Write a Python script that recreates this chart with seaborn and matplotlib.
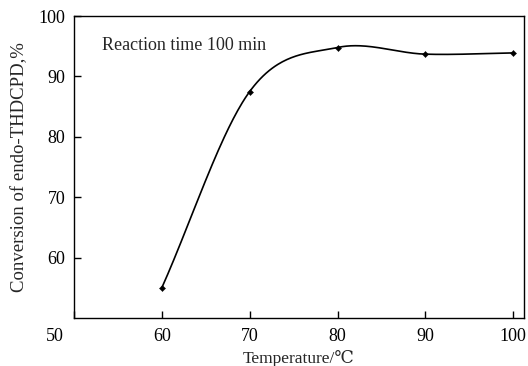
import numpy as np
import pandas as pd
import matplotlib
matplotlib.use("Agg")
import matplotlib.pyplot as plt
import matplotlib.transforms as mtransforms
import seaborn as sns

temperature = [60, 70, 80, 90, 100]
conversion = [55.0, 87.5, 94.8, 93.7, 93.9]
x_ticks = [50, 60, 70, 80, 90, 100]
y_ticks = [60, 70, 80, 90, 100]


def catmull_rom(x, y, n=60):
    x = np.asarray(x, float)
    y = np.asarray(y, float)
    m = len(x)
    tx = np.zeros(m)
    ty = np.zeros(m)
    for i in range(m):
        if i == 0:
            tx[i], ty[i] = x[1] - x[0], y[1] - y[0]
        elif i == m - 1:
            tx[i], ty[i] = x[-1] - x[-2], y[-1] - y[-2]
        else:
            tx[i], ty[i] = (x[i + 1] - x[i - 1]) / 2, (y[i + 1] - y[i - 1]) / 2
    xs, ys = [], []
    t = np.linspace(0, 1, n)
    h00 = 2 * t ** 3 - 3 * t ** 2 + 1
    h10 = t ** 3 - 2 * t ** 2 + t
    h01 = -2 * t ** 3 + 3 * t ** 2
    h11 = t ** 3 - t ** 2
    for i in range(m - 1):
        xs.append(h00 * x[i] + h10 * tx[i] + h01 * x[i + 1] + h11 * tx[i + 1])
        ys.append(h00 * y[i] + h10 * ty[i] + h01 * y[i + 1] + h11 * ty[i + 1])
    return np.concatenate(xs), np.concatenate(ys)


sns.set_style("ticks")
plt.rcParams["font.family"] = ["Liberation Serif", "DejaVu Serif"]

fig = plt.figure(figsize=(5.28, 3.66), dpi=100)
ax = fig.add_axes([0.140, 0.131, 0.852, 0.825])

xs, ys = catmull_rom(temperature, conversion)
curve = pd.DataFrame({"x": xs, "y": ys})
pts = pd.DataFrame({"x": temperature, "y": conversion})

sns.lineplot(data=curve, x="x", y="y", ax=ax, color="black", linewidth=1.2, sort=False)
sns.scatterplot(data=pts, x="x", y="y", ax=ax, color="black", marker="D", s=10,
                edgecolor="black", zorder=3)

ax.set_xlim(50, 101.2)
ax.set_ylim(50, 100)
ax.set_xticks(x_ticks)
ax.set_yticks(y_ticks)
ax.tick_params(direction="in", length=5, width=1, labelsize=13, color="black",
               labelcolor="black")
ax.tick_params(axis="y", pad=6)
ax.tick_params(axis="x", pad=7)
for s in ax.spines.values():
    s.set_linewidth(1.0)
    s.set_color("black")
    s.set_visible(True)

ax.set_xlabel("Temperature/℃", fontsize=12.5, labelpad=4)
ax.set_ylabel("Conversion of endo-THDCPD,%", fontsize=13.5, labelpad=8)
ax.text(0.062, 0.904, "Reaction time 100 min", transform=ax.transAxes, fontsize=13,
        va="center", ha="left")

fig.canvas.draw()
lbl = ax.get_xticklabels()[0]
off = mtransforms.ScaledTranslation(-19 / 100, 0, fig.dpi_scale_trans)
lbl.set_transform(lbl.get_transform() + off)

fig.savefig("out.png", dpi=100)
